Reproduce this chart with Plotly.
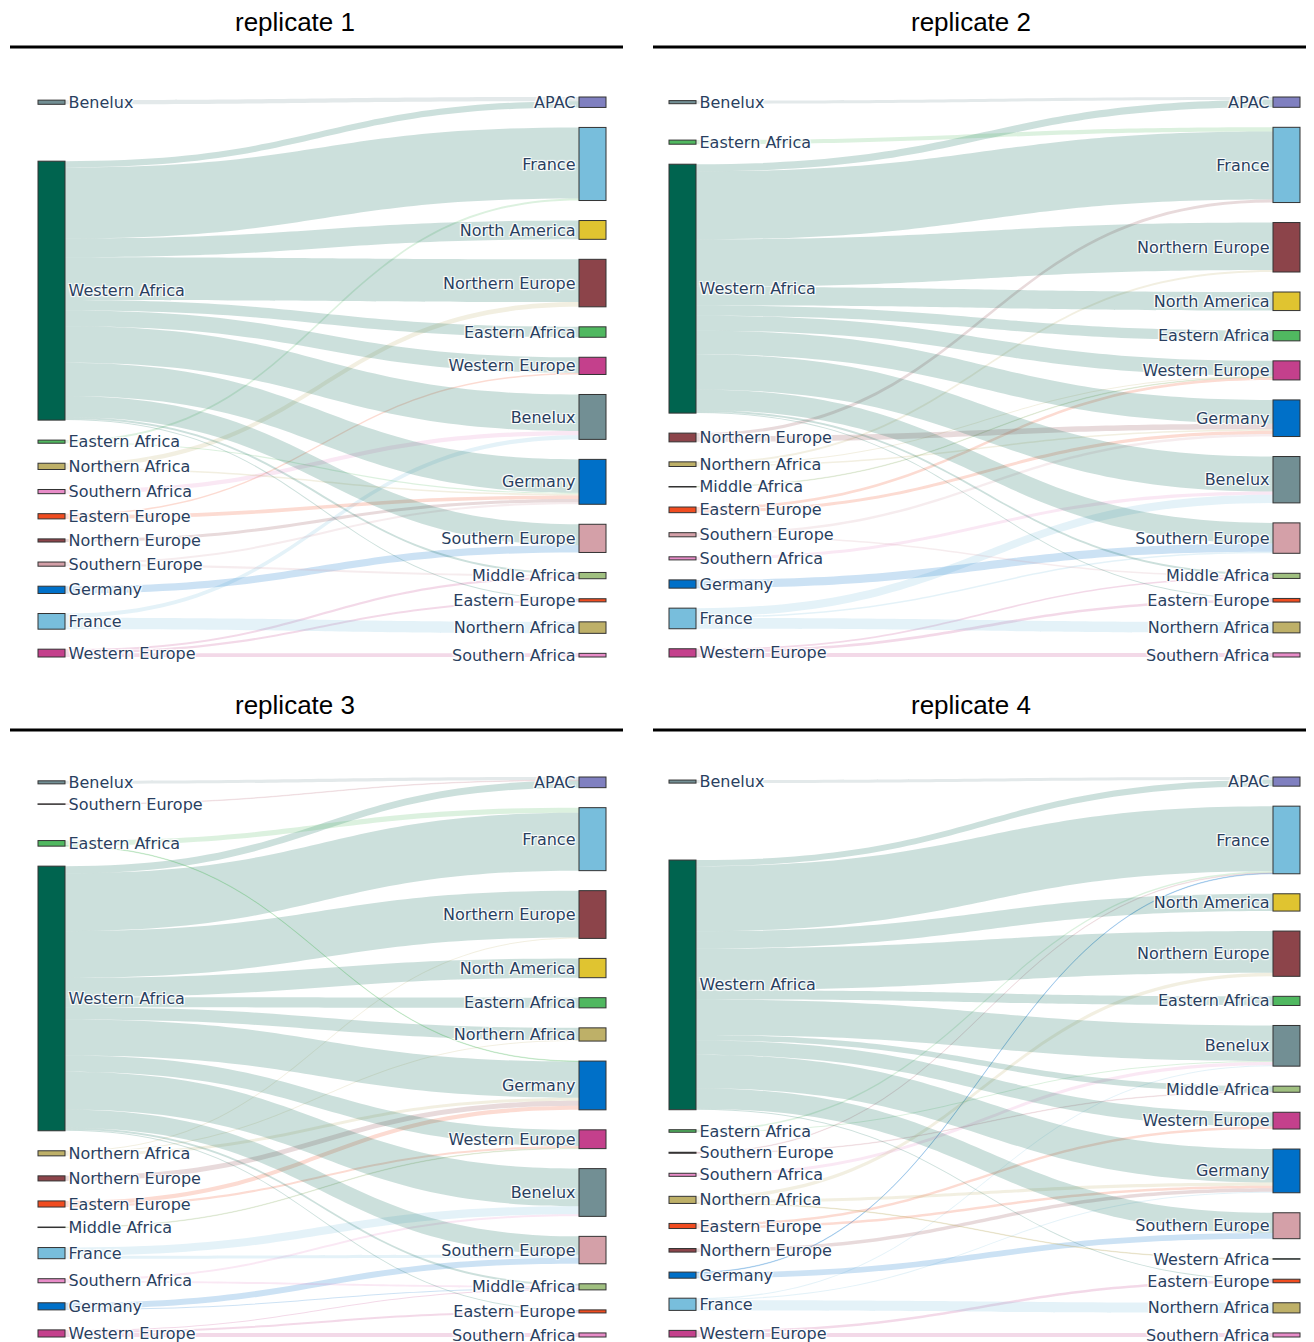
import plotly.graph_objects as go

# ---------------------------------------------------------------- colours
COLORS = {
    "Western Africa": "#00644f", "Benelux": "#728f94", "APAC": "#8080c0", "France": "#78bedc",
    "North America": "#e0c430", "Northern Europe": "#8c444a", "Eastern Africa": "#50b860",
    "Western Europe": "#c4408c", "Germany": "#0070c8", "Southern Europe": "#d4a0a8",
    "Middle Africa": "#a0c080", "Eastern Europe": "#f04c20", "Northern Africa": "#beb068",
    "Southern Africa": "#e88cc8",
}

titles = ["replicate 1", "replicate 2", "replicate 3", "replicate 4"]

WA, EA, NAf, SAf, MA = "Western Africa", "Eastern Africa", "Northern Africa", "Southern Africa", "Middle Africa"
NE, SE, EE, WE = "Northern Europe", "Southern Europe", "Eastern Europe", "Western Europe"
Bx, Fr, Ge, AP, NAm = "Benelux", "France", "Germany", "APAC", "North America"

# ---------------------------------------------------------------- replicate 1
r1_left = [Bx, WA, EA, NAf, SAf, EE, NE, SE, Ge, Fr, WE]
r1_right = [AP, Fr, NAm, NE, EA, WE, Bx, Ge, SE, MA, EE, NAf, SAf]
r1_from = [Bx, WA, WA, EA, WA, WA, NAf, WA, WA, EE, WA, SAf, Fr, WA, EA, NAf, EE, NE, SE, WA, Ge,
           WA, SE, WE, WA, WE, Fr, WE]
r1_to = [AP, AP, Fr, Fr, NAm, NE, NE, EA, WE, WE, Bx, Bx, Bx, Ge, Ge, Ge, Ge, Ge, Ge, SE, SE,
         MA, MA, MA, EE, EE, NAf, SAf]
r1_value = [4, 6, 68, 2, 18, 41, 4.5, 10, 15, 1.5, 35, 4, 4, 32, 1, 1.5, 3.5, 3, 2, 20, 7,
            2, 2, 2, 1, 2, 11, 3.5]

# ---------------------------------------------------------------- replicate 2
r2_left = [Bx, EA, WA, NE, NAf, MA, EE, SE, SAf, Ge, Fr, WE]
r2_right = [AP, Fr, NE, NAm, EA, WE, Ge, Bx, SE, MA, EE, NAf, SAf]
r2_from = [Bx, WA, EA, WA, NE, WA, NAf, WA, WA, WA, NAf, EE, MA, WA, NE, NAf, EE, SE, WA, SAf, Fr,
           WA, Ge, Fr, WA, SE, WE, WA, WE, Fr, WE]
r2_to = [AP, AP, Fr, Fr, Fr, NE, NE, NAm, EA, WE, WE, WE, WE, Ge, Ge, Ge, Ge, Ge, Bx, Bx, Bx,
         SE, SE, SE, MA, MA, MA, EE, EE, NAf, SAf]
r2_value = [3, 7, 4, 66, 3, 46, 2, 18, 10, 14.5, 1, 2.5, 0.5, 23, 5.5, 1.5, 3, 2.5, 34, 3, 8,
            20, 8, 1.5, 2, 1.5, 1.5, 1, 2.5, 10.5, 4]

# ---------------------------------------------------------------- replicate 3
r3_left = [Bx, SE, EA, WA, NAf, NE, EE, MA, Fr, SAf, Ge, WE]
r3_right = [AP, Fr, NE, NAm, EA, NAf, Ge, WE, Bx, SE, MA, EE, SAf]
r3_from = [Bx, WA, SE, EA, WA, WA, NAf, WA, WA, WA, NAf, WA, EA, NAf, NE, EE, WA, EE, MA, WA, Fr,
           SAf, WA, Ge, Fr, WA, SAf, Ge, WE, WA, WE, WE]
r3_to = [AP, AP, AP, Fr, Fr, NE, NE, NAm, EA, NAf, NAf, Ge, Ge, Ge, Ge, Ge, WE, WE, WE, Bx, Bx,
         Bx, SE, SE, SE, MA, MA, MA, MA, EE, EE, SAf]
r3_value = [3, 7, 0.5, 5, 57, 46, 1, 19, 10, 12, 1, 35.5, 0.5, 3, 5, 4, 16, 2, 0.5, 37, 8,
            2, 18, 6, 3, 2, 2, 1, 1, 1, 2, 4]

# ---------------------------------------------------------------- replicate 4
r4_left = [Bx, WA, EA, SE, SAf, NAf, EE, NE, Ge, Fr, WE]
r4_right = [AP, Fr, NAm, NE, EA, Bx, MA, WE, Ge, SE, WA, EE, NAf, SAf]
r4_from = [Bx, WA, WA, EA, Ge, SE, WA, WA, NAf, WA, WA, EA, SAf, Fr, WA, SE, WA, EE, WA, NAf, EE,
           NE, Fr, WA, Ge, NAf, WA, WE, Fr, WE]
r4_to = [AP, AP, Fr, Fr, Fr, Fr, NAm, NE, NE, EA, Bx, Bx, Bx, Bx, MA, MA, WE, WE, Ge, Ge, Ge,
         Ge, Ge, SE, SE, WA, EE, EE, NAf, SAf]
r4_value = [3, 6, 64, 1.5, 0.5, 0.5, 17, 41, 3.5, 9, 35, 1, 3, 1, 5.5, 0.5, 14, 2.5, 33, 3, 2.5,
            3.5, 1, 20, 5.5, 0.5, 1, 2.5, 10, 4]


def rgba(hex_color, alpha):
    h = hex_color.lstrip("#")
    return f"rgba({int(h[0:2], 16)},{int(h[2:4], 16)},{int(h[4:6], 16)},{alpha})"


def make_sankey(left, right, frm, to, val, dom_x, dom_y):
    labels = left + right
    n_left = len(left)
    return go.Sankey(
        domain=dict(x=dom_x, y=dom_y),
        arrangement="snap",
        node=dict(label=labels, color=[COLORS[l] for l in labels],
                  line=dict(color="#333333", width=1), pad=20, thickness=27),
        link=dict(source=[left.index(s) for s in frm],
                  target=[n_left + right.index(t) for t in to],
                  value=val, color=[rgba(COLORS[s], 0.2) for s in frm]),
        textfont=dict(family="DejaVu Sans", size=16, color="#2a3f5f"),
    )


W, H = 1314, 1342
OFF = 8  # page margin of the browser
px_x = lambda v: (v - OFF) / W
px_y = lambda v: 1 - (v - OFF) / H

doms = [
    ([px_x(38), px_x(606)], [px_y(657), px_y(97)]),
    ([px_x(669), px_x(1300)], [px_y(657), px_y(97)]),
    ([px_x(38), px_x(606)], [px_y(1337), px_y(777)]),
    ([px_x(669), px_x(1300)], [px_y(1337), px_y(777)]),
]
sets = [
    (r1_left, r1_right, r1_from, r1_to, r1_value),
    (r2_left, r2_right, r2_from, r2_to, r2_value),
    (r3_left, r3_right, r3_from, r3_to, r3_value),
    (r4_left, r4_right, r4_from, r4_to, r4_value),
]

fig = go.Figure()
for (l, r, f, t, v), (dx, dy) in zip(sets, doms):
    fig.add_trace(make_sankey(l, r, f, t, v, dx, dy))

title_pos = [(294.5, 22), (971, 22), (294.5, 705), (971, 705)]
line_pos = [(10, 623, 47), (653, 1314, 47), (10, 623, 730), (653, 1314, 730)]
annotations = []
shapes = []
for txt, (tx, ty) in zip(titles, title_pos):
    annotations.append(dict(text=txt, x=px_x(tx), y=px_y(ty), xref="paper", yref="paper",
                            xanchor="center", yanchor="middle", showarrow=False,
                            font=dict(family="Liberation Sans, Arial", size=26, color="black")))
for x0, x1, y in line_pos:
    shapes.append(dict(type="line", xref="paper", yref="paper", x0=px_x(x0), x1=px_x(x1),
                       y0=px_y(y), y1=px_y(y), line=dict(color="black", width=3)))

fig.update_layout(width=W, height=H, margin=dict(l=0, r=0, t=0, b=0), paper_bgcolor="white",
                  plot_bgcolor="white", annotations=annotations, shapes=shapes,
                  font=dict(family="DejaVu Sans"))
fig.write_html("out.html")
